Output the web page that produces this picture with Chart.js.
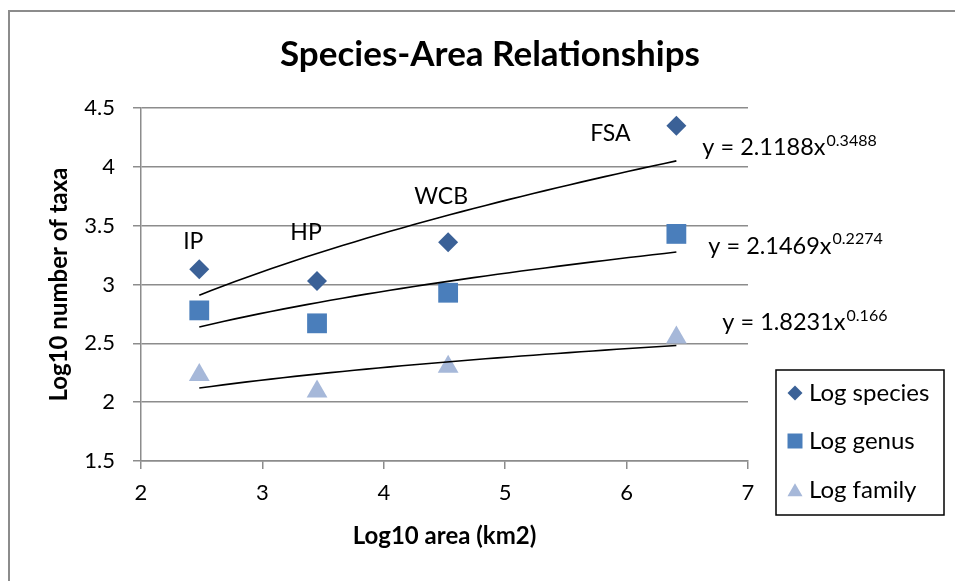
<!DOCTYPE html>
<html>
<head>
<meta charset="utf-8">
<title>Species-Area Relationships</title>
<script src="https://cdn.jsdelivr.net/npm/chart.js@4.4.0/dist/chart.umd.min.js"></script>
<style>
  html, body { margin: 0; padding: 0; background: #fff; overflow: hidden; }
  #wrap { position: relative; width: 955px; height: 581px; overflow: hidden; }
  #frame { position: absolute; left: 8px; top: 10px; width: 1000px; height: 700px;
           border-left: 2px solid #8c8c8c; border-top: 2px solid #8c8c8c; }
  canvas { position: absolute; left: 0; top: 0; }
</style>
</head>
<body>
<div id="wrap">
  <div id="frame"></div>
  <canvas id="sar" width="955" height="581"></canvas>
</div>
<script>
// sites and log-transformed values
const sites = ['IP', 'HP', 'WCB', 'FSA'];
const logArea = [2.48, 3.45, 4.53, 6.41];
const logSpecies = [3.13, 3.03, 3.36, 4.35];
const logGenus = [2.78, 2.67, 2.93, 3.43];
const logFamily = [2.23, 2.09, 2.30, 2.55];

// power trendlines y = a * x^b
const fitA = [2.1188, 2.1469, 1.8231];
const fitB = [0.3488, 0.2274, 0.166];
const fitExp = ['0.3488', '0.2274', '0.166'];

const seriesNames = ['Log species', 'Log genus', 'Log family'];
const seriesColors = ['#3b6197', '#4a7ebb', '#a6b8d9'];
const seriesShapes = ['rectRot', 'rect', 'triangle'];
const seriesRadius = [10, 14, 12];

const chartTitle = 'Species-Area Relationships';
const FONT = 'Lato, "Open Sans", sans-serif';

function pts(ys) {
    return logArea.map((x, i) => ({x: x, y: ys[i]}));
}

// trendline from the first to the last site
function trend(k) {
    const out = [];
    const x0 = logArea[0], x1 = logArea[logArea.length - 1];
    const n = 40;
    for (let i = 0; i <= n; i++) {
        const x = x0 + (x1 - x0) * i / n;
        out.push({x: x, y: fitA[k] * Math.pow(x, fitB[k])});
    }
    return out;
}

const datasets = [logSpecies, logGenus, logFamily].map((ys, k) => ({
    label: seriesNames[k],
    data: pts(ys),
    pointStyle: seriesShapes[k],
    pointRadius: seriesRadius[k],
    pointHoverRadius: seriesRadius[k],
    backgroundColor: seriesColors[k],
    borderColor: seriesColors[k],
    borderWidth: 0,
    order: 2
}));

[0, 1, 2].forEach(k => datasets.push({
    label: 'trend' + k,
    data: trend(k),
    showLine: true,
    pointRadius: 0,
    borderColor: '#000',
    borderWidth: 1.6,
    fill: false,
    order: 1
}));

// text next to the points and the trendlines
const siteOffsets = [[-6, -28], [-11, -48], [-7, -46], [-66, 8]];
const eqOffsets = [[26, -13], [32, -6], [46, -23]];

const annotations = {
    id: 'annotations',
    afterDatasetsDraw(chart) {
        const c = chart.ctx;
        const xs = chart.scales.x, ys = chart.scales.y;
        c.save();
        c.fillStyle = '#000';

        // title, centred over the whole frame
        c.textAlign = 'center';
        c.textBaseline = 'alphabetic';
        c.font = 'bold 35px ' + FONT;
        c.fillText(chartTitle, 490, 66);

        c.textBaseline = 'middle';
        c.font = '23px ' + FONT;
        sites.forEach((s, i) => {
            const px = xs.getPixelForValue(logArea[i]);
            const py = ys.getPixelForValue(logSpecies[i]);
            c.fillText(s, px + siteOffsets[i][0], py + siteOffsets[i][1]);
        });
        c.textAlign = 'left';
        const xe = logArea[logArea.length - 1];
        fitA.forEach((a, k) => {
            const px = xs.getPixelForValue(xe) + eqOffsets[k][0];
            const py = ys.getPixelForValue(a * Math.pow(xe, fitB[k])) + eqOffsets[k][1];
            const main = 'y = ' + a.toFixed(4).replace(/0+$/, '') + 'x';
            c.font = '23.5px ' + FONT;
            c.fillText(main, px, py);
            const w = c.measureText(main).width;
            c.font = '16px ' + FONT;
            c.fillText(fitExp[k], px + w + 1, py - 7);
        });
        c.restore();
    }
};

// boxed legend at the lower right
const legendBox = {
    id: 'legendBox',
    afterDraw(chart) {
        const c = chart.ctx;
        const box = {x: 776, y: 370, w: 168, h: 145};
        c.save();
        c.strokeStyle = '#000';
        c.lineWidth = 1.5;
        c.strokeRect(box.x, box.y, box.w, box.h);
        const rows = [393, 441, 490];
        const legR = [7.5, 10.6, 8.7];
        c.font = '24px ' + FONT;
        c.textBaseline = 'middle';
        c.textAlign = 'left';
        seriesNames.forEach((name, k) => {
            c.fillStyle = seriesColors[k];
            Chart.helpers.drawPoint(c, {pointStyle: seriesShapes[k], radius: legR[k], borderWidth: 0}, 795, rows[k] + (k === 2 ? 2 : 0));
            c.fillStyle = '#000';
            c.fillText(name, 809, rows[k]);
        });
        c.restore();
    }
};

const ctx = document.getElementById('sar').getContext('2d');
const sar = new Chart(ctx, {
    type: 'scatter',
    data: {datasets: datasets},
    options: {
        responsive: false,
        animation: false,
        devicePixelRatio: 1,
        layout: {padding: {left: 0, top: 108, right: 207, bottom: 0}},
        plugins: {
            legend: {display: false},
            tooltip: {enabled: false},
            title: {display: false}
        },
        scales: {
            x: {
                type: 'linear',
                min: 2,
                max: 7,
                afterFit(scale) { scale.height = 120; },
                ticks: {stepSize: 1, color: '#000', padding: 11, font: {family: FONT, size: 22}},
                grid: {drawOnChartArea: false, color: '#8c8c8c', lineWidth: 1.5, tickLength: 8},
                border: {color: '#8c8c8c', width: 1.5},
                title: {
                    display: true,
                    text: 'Log10 area (km2)',
                    color: '#000',
                    font: {family: FONT, size: 24, weight: 'bold'},
                    padding: {top: 0, bottom: 30}
                }
            },
            y: {
                type: 'linear',
                min: 1.5,
                max: 4.5,
                afterFit(scale) { scale.width = 141; },
                ticks: {
                    stepSize: 0.5, color: '#000', padding: 18, font: {family: FONT, size: 22},
                    callback: v => String(v)
                },
                grid: {color: '#8c8c8c', lineWidth: 1.5, tickLength: 8},
                border: {color: '#8c8c8c', width: 1.5},
                title: {
                    display: true,
                    text: 'Log10 number of taxa',
                    color: '#000',
                    font: {family: FONT, size: 24, weight: 'bold'},
                    padding: {top: 45, bottom: 0}
                }
            }
        }
    },
    plugins: [annotations, legendBox]
});
</script>
</body>
</html>
